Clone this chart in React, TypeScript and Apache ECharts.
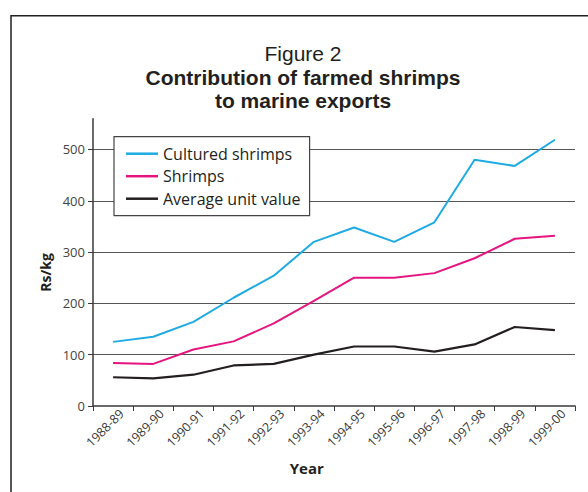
import React, { useEffect, useRef } from "react";
import * as echarts from "echarts";

const categories = [
  "1988-89", "1989-90", "1990-91", "1991-92", "1992-93", "1993-94",
  "1994-95", "1995-96", "1996-97", "1997-98", "1998-99", "1999-00",
];
const culturedShrimps = [125, 135, 164, 211, 254, 320, 348, 320, 358, 480, 468, 519];
const shrimps = [84, 82, 110, 126, 161, 205, 250, 250, 259, 288, 326, 332];
const averageUnitValue = [56, 54, 61, 79, 82, 100, 116, 116, 106, 120, 154, 148];
const yTicks = [0, 100, 200, 300, 400, 500];

const FONT = "'Open Sans', 'Noto Sans', sans-serif";
const TITLE_FONT = "'Liberation Sans', Arial, sans-serif";
const BLUE = "#1eabe3";
const PINK = "#e6147f";
const BLACK = "#231f20";

export default function App() {
  const ref = useRef<HTMLDivElement>(null);
  useEffect(() => {
    if (!ref.current) return;
    const chart = echarts.init(ref.current, undefined, { renderer: "svg" });
    chart.setOption({
      animation: false,
      backgroundColor: "#ffffff",
      textStyle: { fontFamily: FONT },
      grid: { left: 93, right: 13, top: 118.7, bottom: 86, containLabel: false },
      xAxis: {
        type: "category",
        data: categories,
        boundaryGap: true,
        axisLine: { lineStyle: { color: "#3a3a3a", width: 1.5 } },
        axisTick: { show: true, length: 5, inside: false, lineStyle: { color: "#3a3a3a", width: 1 } },
        axisLabel: {
          rotate: 45,
          margin: -3,
          verticalAlign: "top",
          padding: [5, 0, 0, 0],
          lineHeight: 14,
          fontSize: 12.5,
          color: "#3a3a3a",
          fontFamily: FONT,
          interval: 0,
        },
        splitLine: { show: false },
      },
      yAxis: {
        type: "value",
        min: yTicks[0],
        max: 560,
        interval: 100,
        axisLine: { show: true, lineStyle: { color: "#3a3a3a", width: 1.5 } },
        axisTick: { show: true, length: 5, lineStyle: { color: "#3a3a3a", width: 1 } },
        axisLabel: { fontSize: 13, color: "#444", margin: 8, fontFamily: FONT, showMaxLabel: false },
        splitLine: { show: true, showMinLine: false, showMaxLine: false, lineStyle: { color: "#555", width: 1.2 } },
      },
      legend: {
        orient: "vertical",
        left: 114,
        top: 136.7,
        padding: [8, 9, 8, 12],
        itemGap: 4.5,
        itemWidth: 32,
        itemHeight: 2.5,
        icon: "rect",
        borderColor: "#444",
        borderWidth: 1.2,
        borderRadius: 0,
        backgroundColor: "#ffffff",
        textStyle: { fontSize: 16, color: BLACK, fontFamily: FONT, lineHeight: 18 },
        data: ["Cultured shrimps", "Shrimps", "Average unit value"],
      },
      series: [
        {
          name: "Cultured shrimps",
          type: "line",
          data: culturedShrimps,
          symbol: "none",
          lineStyle: { color: BLUE, width: 2 },
          itemStyle: { color: BLUE },
        },
        {
          name: "Shrimps",
          type: "line",
          data: shrimps,
          symbol: "none",
          lineStyle: { color: PINK, width: 2 },
          itemStyle: { color: PINK },
        },
        {
          name: "Average unit value",
          type: "line",
          data: averageUnitValue,
          symbol: "none",
          lineStyle: { color: BLACK, width: 2.2 },
          itemStyle: { color: BLACK },
        },
      ],
      graphic: [
        {
          type: "rect",
          shape: { x: 11, y: 15.7, width: 620, height: 520 },
          style: { fill: "none", stroke: BLACK, lineWidth: 1.5 },
          silent: true,
        },
        {
          type: "text",
          x: 303,
          y: 77,
          style: {
            text: "{a|Figure 2}\n{b|Contribution of farmed shrimps}\n{b|to marine exports}",
            align: "center",
            verticalAlign: "middle",
            fontFamily: TITLE_FONT,
            fill: BLACK,
            rich: {
              a: { fontSize: 21, fontFamily: TITLE_FONT, fill: BLACK, lineHeight: 23.6, align: "center" },
              b: { fontSize: 21, fontWeight: "bold", fontFamily: TITLE_FONT, fill: BLACK, lineHeight: 23.6, align: "center" },
            },
          },
        },
        {
          type: "text",
          x: 45,
          y: 272.5,
          rotation: Math.PI / 2,
          style: { text: "Rs/kg", fontSize: 14, fontWeight: "bold", fontFamily: FONT, fill: BLACK, align: "center", verticalAlign: "middle" },
        },
        {
          type: "text",
          x: 306.7,
          y: 467.5,
          style: { text: "Year", fontSize: 15, fontWeight: "bold", fontFamily: FONT, fill: BLACK, align: "center", verticalAlign: "middle" },
        },
      ],
    });
    return () => chart.dispose();
  }, []);
  return (
    <div
      ref={ref}
      style={{ position: "fixed", left: 0, top: 0, width: 588, height: 492, background: "#fff" }}
    />
  );
}
